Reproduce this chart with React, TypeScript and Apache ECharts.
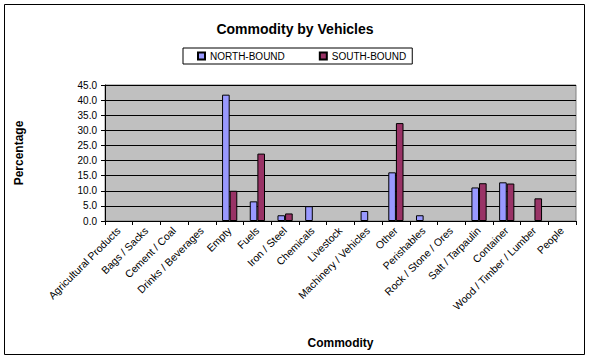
import React, { useEffect, useRef } from "react";
import * as echarts from "echarts";

const categories = [
  "Agricultural Products",
  "Bags / Sacks",
  "Cement / Coal",
  "Drinks / Beverages",
  "Empty",
  "Fuels",
  "Iron / Steel",
  "Chemicals",
  "Livestock",
  "Machinery / Vehicles",
  "Other",
  "Perishables",
  "Rock / Stone / Ores",
  "Salt / Tarpaulin",
  "Container",
  "Wood / Timber / Lumber",
  "People",
];

// null = no bar drawn for that category
const northBound = [null, null, null, null, 41.8, 6.5, 1.9, 4.9, null, 3.3, 16.1, 1.9, null, 11.1, 12.8, null, null];
const southBound = [null, null, null, null, 10.0, 22.3, 2.5, null, null, null, 32.4, null, null, 12.5, 12.4, 7.5, null];

const yTicks = { min: 0, max: 45, interval: 5 };

export default function App() {
  const ref = useRef<HTMLDivElement>(null);
  useEffect(() => {
    if (!ref.current) return;
    const chart = echarts.init(ref.current, null, { renderer: "svg" });
    const font = "Arial, 'Liberation Sans', sans-serif";
    chart.setOption({
      animation: false,
      backgroundColor: "#ffffff",
      textStyle: { fontFamily: font, color: "#000" },
      title: {
        text: "Commodity by Vehicles",
        left: "center",
        top: 17,
        textStyle: { fontSize: 14, fontWeight: "bold", color: "#000", fontFamily: font },
      },
      legend: {
        left: 183,
        top: 48,
        itemWidth: 7,
        itemHeight: 7,
        itemGap: 34,
        padding: [3, 6, 3, 14],
        borderColor: "#000",
        borderWidth: 1,
        icon: "rect",
        textStyle: { fontSize: 10, color: "#000", fontFamily: font },
        data: ["NORTH-BOUND", "SOUTH-BOUND"],
      },
      grid: {
        left: 105,
        right: 14,
        top: 85,
        bottom: 138,
        show: true,
        backgroundColor: "#C0C0C0",
        borderColor: "#808080",
        borderWidth: 1,
      },
      xAxis: {
        type: "category",
        data: categories,
        name: "Commodity",
        nameLocation: "middle",
        nameGap: 116,
        nameTextStyle: { fontSize: 12, fontWeight: "bold", color: "#000" },
        axisLine: { lineStyle: { color: "#000" } },
        axisTick: { show: true, length: 4, lineStyle: { color: "#000" } },
        axisLabel: { rotate: 45, fontSize: 10.5, color: "#000", margin: 8, interval: 0 },
      },
      yAxis: {
        type: "value",
        min: yTicks.min,
        max: yTicks.max,
        interval: yTicks.interval,
        name: "Percentage",
        nameLocation: "middle",
        nameGap: 80,
        nameTextStyle: { fontSize: 12, fontWeight: "bold", color: "#000" },
        axisLine: { show: true, lineStyle: { color: "#000" } },
        axisTick: { show: true, length: 4, lineStyle: { color: "#000" } },
        axisLabel: {
          fontSize: 10,
          color: "#000",
          margin: 8,
          formatter: (v: number) => v.toFixed(1),
        },
        splitLine: { show: true, lineStyle: { color: "#000", width: 1 } },
      },
      series: [
        {
          name: "NORTH-BOUND",
          type: "bar",
          data: northBound,
          barGap: "0%",
          barCategoryGap: "45%",
          itemStyle: { color: "#9999FF", borderColor: "#000", borderWidth: 1 },
        },
        {
          name: "SOUTH-BOUND",
          type: "bar",
          data: southBound,
          itemStyle: { color: "#993366", borderColor: "#000", borderWidth: 1 },
        },
      ],
      graphic: [
        {
          type: "rect",
          shape: { x: 4.5, y: 4.5, width: 580, height: 350 },
          style: { fill: "none", stroke: "#000", lineWidth: 1 },
          silent: true,
        },
      ],
    });
    return () => chart.dispose();
  }, []);
  return (
    <div
      ref={ref}
      style={{ position: "fixed", left: 0, top: 0, width: 590, height: 359 }}
    />
  );
}
